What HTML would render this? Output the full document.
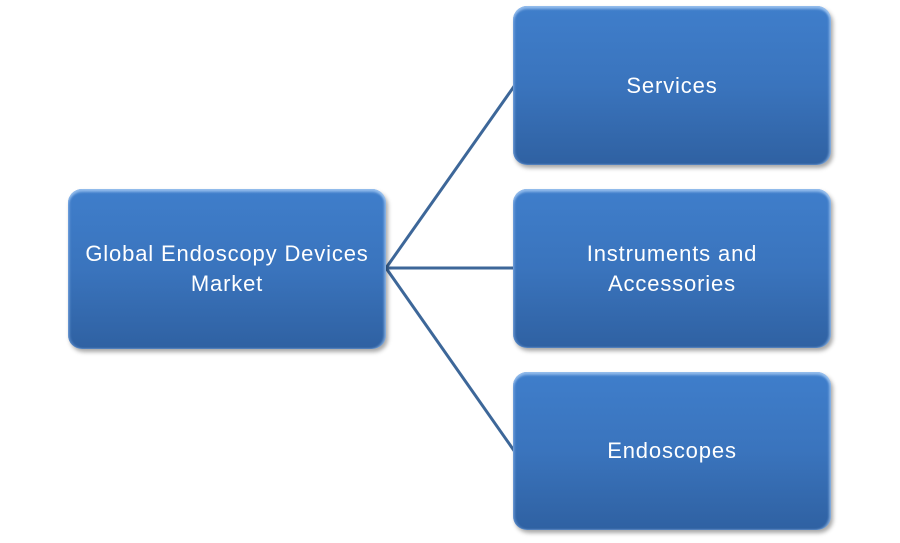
<!DOCTYPE html>
<html><head><style>
html,body{margin:0;padding:0;background:#fff;width:900px;height:543px;overflow:hidden;position:relative}
.b{position:absolute;width:318px;border-radius:14px;
background:linear-gradient(#3f7ecb,#3a74bd 50%,#2f61a2);
box-shadow:2px 3px 4px rgba(0,0,0,0.35), inset 0 3px 2px rgba(170,205,245,0.7), inset -2px 0 2px rgba(170,205,245,0.6), inset 2px 0 2px rgba(120,165,225,0.5);
color:#fff;font-family:"Liberation Sans",sans-serif;font-size:22px;line-height:30px;
display:flex;align-items:center;justify-content:center;text-align:center;letter-spacing:0.85px}
svg{position:absolute;left:0;top:0}
</style></head><body>
<svg width="900" height="543"><g stroke="#3d6799" stroke-width="3" fill="none">
<line x1="386" y1="268" x2="515" y2="85"/>
<line x1="386" y1="268" x2="515" y2="268"/>
<line x1="386" y1="268" x2="515" y2="452"/>
</g></svg>
<div class="b" style="left:68px;top:189px;height:160px">Global Endoscopy Devices<br>Market</div>
<div class="b" style="left:513px;top:6px;height:159px">Services</div>
<div class="b" style="left:513px;top:189px;height:159px">Instruments and<br>Accessories</div>
<div class="b" style="left:513px;top:372px;height:158px">Endoscopes</div>
</body></html>
